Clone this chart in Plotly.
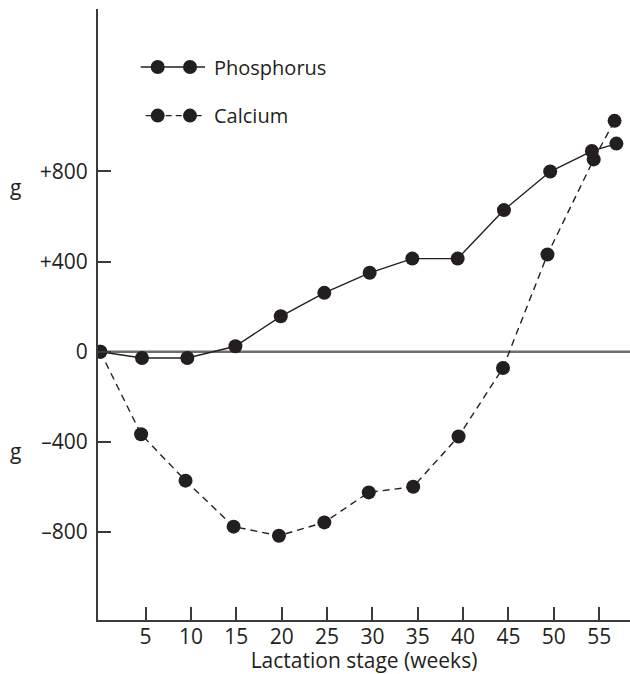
import plotly.graph_objects as go

# Values
weeks_p = [0, 4.6, 9.6, 14.9, 19.9, 24.7, 29.7, 34.4, 39.4, 44.5, 49.6, 54.2, 56.9]
phosphorus = [0, -28, -28, 24, 157, 261, 350, 413, 413, 628, 799, 890, 923]

weeks_c = [0, 4.5, 9.4, 14.7, 19.7, 24.7, 29.6, 34.5, 39.5, 44.4, 49.3, 54.4, 56.7]
calcium = [0, -366, -572, -776, -816, -757, -624, -599, -376, -72, 431, 853, 1024]

x_ticks = [5, 10, 15, 20, 25, 30, 35, 40, 45, 50, 55]
y_ticks = [-800, -400, 0, 400, 800]
y_tick_text = ['\u2013800', '\u2013400', '0', '+400', '+800']

ink = '#231f20'
font = 'Open Sans'

fig = go.Figure()

fig.add_trace(go.Scatter(x=weeks_c, y=calcium, mode='lines+markers', name='Calcium',
                         line=dict(color=ink, width=1.4, dash='7px,5px'),
                         marker=dict(color=ink, size=14)))
fig.add_trace(go.Scatter(x=weeks_p, y=phosphorus, mode='lines+markers', name='Phosphorus',
                         line=dict(color=ink, width=1.4),
                         marker=dict(color=ink, size=14)))

# zero line across the plot
fig.add_hline(y=0, line=dict(color='#6d6e70', width=2.5), layer='below')

# hand-drawn legend (two markers per sample, as in the original)
def legend_item(ypix, label, dash):
    ypap = 1 - (ypix - 9.5) / 610.5
    x0, x1 = (140.7 - 98) / 532, (205 - 98) / 532
    if dash:
        x0 = (145.7 - 98) / 532
    fig.add_shape(type='line', xref='paper', yref='paper', x0=x0, x1=x1, y0=ypap, y1=ypap,
                  line=dict(color=ink, width=1.4, dash='6px,4px' if dash else 'solid'))
    for xp in (157.7, 190):
        fig.add_shape(type='circle', xref='paper', yref='paper', xsizemode='pixel', ysizemode='pixel',
                      xanchor=(xp - 98) / 532, yanchor=ypap, x0=-7, x1=7, y0=-7, y1=7,
                      fillcolor=ink, line=dict(color=ink, width=0))
    fig.add_annotation(xref='paper', yref='paper', x=(212 - 98) / 532, y=ypap, text=label,
                       showarrow=False, xanchor='left', yanchor='middle',
                       font=dict(family=font, size=20, color=ink))

legend_item(67.5, 'Phosphorus', False)
legend_item(116, 'Calcium', True)

# "g" unit labels on the left
for v in (800 - 70, -400 - 40):
    fig.add_annotation(xref='paper', yref='y', x=-0.155, y=v, text='g', showarrow=False,
                       xanchor='center', yanchor='middle', font=dict(family=font, size=21, color=ink))

fig.update_layout(
    width=630, height=674,
    margin=dict(l=98, r=0, t=9, b=54),
    plot_bgcolor='white', paper_bgcolor='white',
    showlegend=False,
    font=dict(family=font, size=21, color=ink),
    xaxis=dict(range=[-0.25, 58.4], tickvals=x_ticks, ticks='inside', ticklen=13, tickwidth=1.5,
               tickcolor='#3a3a3a', showline=True, linecolor='#3a3a3a', linewidth=2,
               showgrid=False, zeroline=False, ticklabelstandoff=-3,
               title=dict(text='Lactation stage (weeks)', standoff=3, font=dict(size=21))),
    yaxis=dict(range=[-1190, 1520], tickvals=y_ticks, ticktext=y_tick_text, ticks='inside',
               ticklen=13, tickwidth=1.5, tickcolor='#3a3a3a', showline=True, linecolor='#3a3a3a',
               linewidth=2, showgrid=False, zeroline=False, ticklabelstandoff=4),
)

# the page's default body margin would shift the figure by 8px
fig.write_html('out.html', config={'displayModeBar': False},
               post_script="document.body.style.margin='0';")
